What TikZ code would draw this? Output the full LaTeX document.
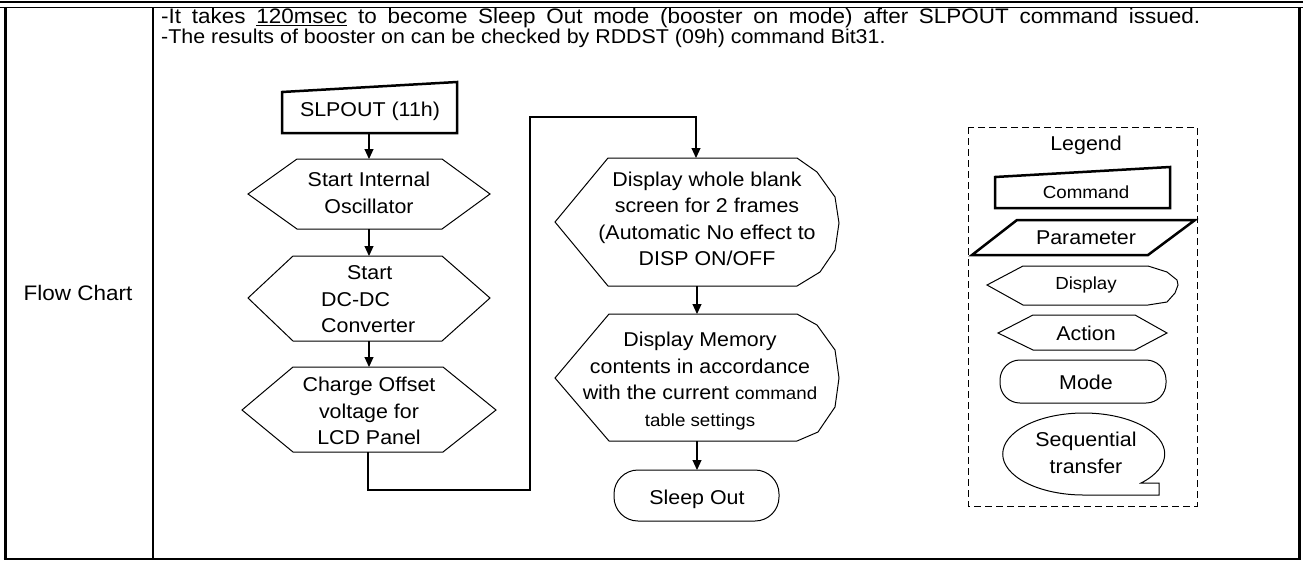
\documentclass[tikz,border=0pt]{standalone}
\usepackage{fontspec}
\setmainfont{Liberation Sans}[FakeStretch=1.07]
\usetikzlibrary{arrows.meta}
\newcommand\mainsz{\fontsize{20}{26.5}\selectfont}
\newcommand\smsz{\fontsize{17.5}{26.5}\selectfont}
\begin{document}
\begin{tikzpicture}[x=1pt,y=-1pt,
  ln/.style={line width=1pt, line join=miter},
  thk/.style={line width=2.5pt, line join=miter},
  arr/.style={line width=1.1pt, -{Triangle[length=10pt,width=9pt]}},
  txt/.style={inner sep=0pt, align=center, font=\mainsz},
  legbox/.style={line width=1pt, dash pattern=on 7pt off 4pt}]
\useasboundingbox (0,0) rectangle (1303,560);
% table
\draw[line width=2.5pt] (0,2) -- (1303,2);
\draw[line width=1.2pt] (0,7.5) -- (1303,7.5);
\draw[line width=3pt] (5,8) -- (5,559);
\draw[line width=3pt] (1299,8) -- (1299,559);
\draw[line width=2pt] (153,8) -- (153,559);
\draw[line width=1.5pt] (3.5,559) -- (1300.5,559);
\node[txt, font=\fontsize{21}{26}\selectfont] (fc) at (78,293) {Flow Chart};
\node[txt, anchor=base west, font=\fontsize{21}{26}\selectfont] (t1) at (161,23.5) {\makebox[1039pt][s]{-It takes \underline{120msec} to become Sleep Out mode (booster on mode) after SLPOUT command issued.}};
\node[txt, anchor=base west] (t2) at (161,43.5) {-The results of booster on can be checked by RDDST (09h) command Bit31.};
% SLPOUT command
\draw[thk] (282,92) -- (457,82) -- (457,133) -- (282,133) -- cycle;
\node[txt] (slp) at (370,111) {SLPOUT (11h)};
% hex 1
\draw[ln] (248,194) -- (297,159) -- (442,159) -- (490,194) -- (442,229) -- (297,229) -- cycle;
\node[txt] (hx1) at (369,193) {Start Internal\\Oscillator};
% hex 2
\draw[ln] (248,298) -- (293,256) -- (442,256) -- (490,298) -- (442,341) -- (293,341) -- cycle;
\node[txt, anchor=west] (hx2) at (321,301) {\renewcommand\arraystretch{1.0}\begin{tabular}{@{}l@{}}\hspace*{26pt}Start\\DC-DC\\Converter\end{tabular}};
% hex 3
\draw[ln] (242,410) -- (293,367) -- (443,367) -- (496,410) -- (443,452) -- (293,452) -- cycle;
\node[txt] (hx3) at (369,411) {Charge Offset\\voltage for\\LCD Panel};
% display 1
\draw[ln] (555,222) -- (608,158) -- (797,158) -- (817,172) -- (835,197) -- (839,223) -- (835,250) -- (820,272) -- (797,286) -- (608,286) -- cycle;
\node[txt] (ds1) at (707,219) {Display whole blank\\screen for 2 frames\\(Automatic No effect to\\DISP ON/OFF};
% display 2
\draw[ln] (555,378) -- (609,314) -- (797,314) -- (817,325) -- (835,350) -- (839,378) -- (835,407) -- (818,432) -- (797,441) -- (609,441) -- cycle;
\node[txt] (ds2) at (700,381) {Display Memory\\contents in accordance\\with the current {\smsz command}\\{\smsz table settings}};
% sleep out
\draw[ln, rounded corners=24pt] (614,470) rectangle (779,521);
\node[txt] (slo) at (697,499) {Sleep Out};
% connector coordinates
\coordinate (c1b) at (369,133);
\coordinate (h1t) at (369,159);
\coordinate (h1b) at (369,229);
\coordinate (h2t) at (369,256);
\coordinate (h2b) at (369,341);
\coordinate (h3t) at (369,367);
\coordinate (h3b) at (368,452);
\coordinate (j1) at (530,490);
\coordinate (j2) at (530,117);
\coordinate (d1t) at (696,158);
\coordinate (d1b) at (697,286);
\coordinate (d2t) at (697,314);
\coordinate (d2b) at (697,441);
\coordinate (mt) at (697,470);
\draw[arr] (c1b) -- (h1t);
\draw[arr] (h1b) -- (h2t);
\draw[arr] (h2b) -- (h3t);
\draw[arr] (h3b) |- (j1) -- (j2) -| (d1t);
\draw[arr] (d1b) -- (d2t);
\draw[arr] (d2b) -- (mt);
% legend
\draw[legbox] (968,127) rectangle (1197,506);
\node[txt] (lg) at (1086,145) {Legend};
\draw[thk] (995,177) -- (1170,167) -- (1170,208) -- (995,208) -- cycle;
\node[txt, font=\smsz] (lcmd) at (1086,192) {Command};
\draw[thk] (1017,220) -- (1195,220) -- (1148,255) -- (972,255) -- cycle;
\node[txt] (lpar) at (1086,238) {Parameter};
\draw[ln] (987,285) -- (1023,266) -- (1148,266) -- (1167,272) -- (1177,280) -- (1178,285) -- (1175,293) -- (1167,302) -- (1148,305) -- (1023,305) -- cycle;
\node[txt, font=\smsz] (ldis) at (1086,285) {Display};
\draw[ln] (998,333) -- (1033,315) -- (1135,315) -- (1167,333) -- (1135,350) -- (1033,350) -- cycle;
\node[txt] (lact) at (1086,333) {Action};
\draw[ln, rounded corners=20pt] (1000,360) rectangle (1166,403);
\node[txt] (lmod) at (1086,382) {Mode};
\draw[ln] (1141,483) arc[start angle=45, end angle=-270, x radius=81, y radius=41] -- (1159,495) -- (1159,483) -- cycle;
\node[txt] (lseq) at (1086,453) {Sequential\\transfer};
\end{tikzpicture}
\end{document}
